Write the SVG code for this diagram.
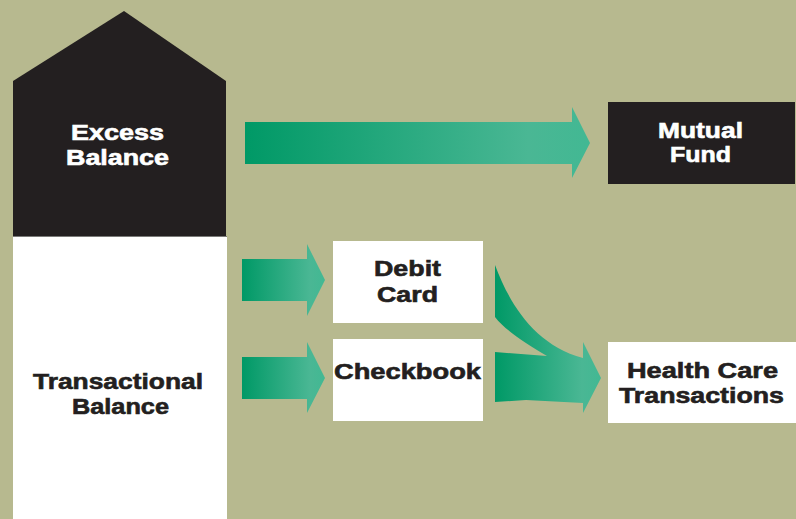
<svg xmlns="http://www.w3.org/2000/svg" width="796" height="519" viewBox="0 0 796 519">
<defs>
<linearGradient id="g" x1="0" y1="0" x2="1" y2="0">
<stop offset="0" stop-color="#009966"/>
<stop offset="0.82" stop-color="#4ab794"/>
<stop offset="1" stop-color="#42b893"/>
</linearGradient>
<style>
text{font-family:"Liberation Sans",Arial,sans-serif;font-weight:bold;font-size:21.5px;stroke-width:0.6px}
.w{fill:#ffffff;stroke:#ffffff}
.d{fill:#231f20;stroke:#231f20}
.arr{fill:url(#g)}
</style>
</defs>
<rect width="796" height="519" fill="#b7b98f"/>
<g id="excess-balance">
<polygon points="13,81 124,11 226,81 226,236 13,236" fill="#231f20"/>
<text class="w" x="71" y="140" textLength="93" lengthAdjust="spacingAndGlyphs">Excess</text>
<text class="w" x="66" y="165" textLength="103" lengthAdjust="spacingAndGlyphs">Balance</text>
</g>
<g id="transactional-balance">
<rect x="13" y="237" width="214" height="282" fill="#ffffff"/>
<line x1="13" y1="236.5" x2="227" y2="236.5" stroke="#7a7a78" stroke-width="1"/>
<text class="d" x="33" y="389" textLength="170" lengthAdjust="spacingAndGlyphs">Transactional</text>
<text class="d" x="72" y="414" textLength="97" lengthAdjust="spacingAndGlyphs">Balance</text>
</g>
<g id="mutual-fund">
<rect x="608" y="102" width="187" height="82" fill="#231f20"/>
<text class="w" x="658" y="138" textLength="85" lengthAdjust="spacingAndGlyphs">Mutual</text>
<text class="w" x="670" y="162" textLength="61" lengthAdjust="spacingAndGlyphs">Fund</text>
</g>
<g id="debit-card">
<rect x="333" y="241" width="150" height="82" fill="#ffffff"/>
<text class="d" x="374" y="276" textLength="67" lengthAdjust="spacingAndGlyphs">Debit</text>
<text class="d" x="377" y="302" textLength="61" lengthAdjust="spacingAndGlyphs">Card</text>
</g>
<g id="checkbook">
<rect x="333" y="339" width="150" height="82" fill="#ffffff"/>
<text class="d" x="334" y="379" textLength="147" lengthAdjust="spacingAndGlyphs">Checkbook</text>
</g>
<g id="health-care-transactions">
<rect x="608" y="342" width="188" height="81" fill="#ffffff"/>
<text class="d" x="627" y="378" textLength="151" lengthAdjust="spacingAndGlyphs">Health Care</text>
<text class="d" x="619" y="403" textLength="165" lengthAdjust="spacingAndGlyphs">Transactions</text>
</g>
<g id="connectors">
<polygon class="arr" points="245,122 572,122 572,107 590,143 572,178 572,164 245,164"/>
<polygon class="arr" points="242,259 307,259 307,244 325,280 307,316 307,301 242,301"/>
<polygon class="arr" points="242,357 307,357 307,342 325,378 307,413 307,399 242,399"/>
<path class="arr" d="M495,265 C510,305 535,345 583,358 L583,342 L601,378 L583,413 L583,403 L526,400 L495,402 L495,352 L547,356 C525,343 505,330 495,317 Z"/>
</g>
</svg>
